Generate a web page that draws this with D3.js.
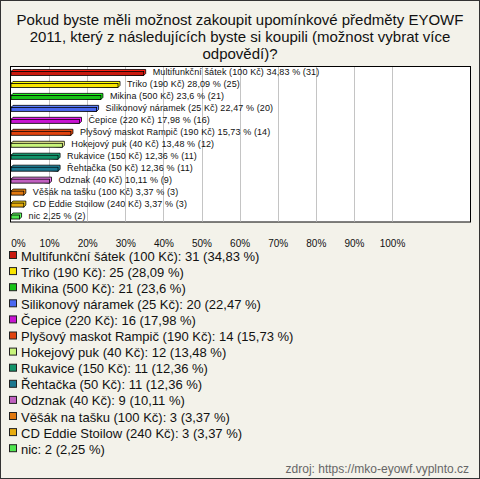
<!DOCTYPE html>
<html>
<head>
<meta charset="utf-8">
<script src="https://cdn.jsdelivr.net/npm/d3@7"></script>
<style>
  body { margin: 0; background: #fff; }
  text { font-family: Arial, "Liberation Sans", sans-serif; }
</style>
</head>
<body>
<div class="layout"></div>
<script>
var titleLines = [
  "Pokud byste měli možnost zakoupit upomínkové předměty EYOWF",
  "2011, který z následujících byste si koupili (možnost vybrat více",
  "odpovědí)?"
];

var items = [
  "Multifunkční šátek (100 Kč)", "Triko (190 Kč)", "Mikina (500 Kč)",
  "Silikonový náramek (25 Kč)", "Čepice (220 Kč)", "Plyšový maskot Rampič (190 Kč)",
  "Hokejový puk (40 Kč)", "Rukavice (150 Kč)", "Řehtačka (50 Kč)",
  "Odznak (40 Kč)", "Věšák na tašku (100 Kč)", "CD Eddie Stoilow (240 Kč)", "nic"
];
var counts = [31, 25, 21, 20, 16, 14, 12, 11, 11, 9, 3, 3, 2];
var percents = [34.83, 28.09, 23.6, 22.47, 17.98, 15.73, 13.48, 12.36, 12.36, 10.11, 3.37, 3.37, 2.25];
var colors = [
  "#c8190f", "#f8e400", "#16c216", "#4a68f0", "#c814d2", "#e0420e", "#c8f47a",
  "#12946a", "#1c7890", "#c060c0", "#e07810", "#e8ac10", "#50e650"
];
var ticks = [0, 10, 20, 30, 40, 50, 60, 70, 80, 90, 100];
var source = "zdroj: https://mko-eyowf.vyplnto.cz";

var W = 480, H = 479;
var plot = {left: 10, right: 470, top: 66.5, bottom: 222};

var fmt = function(v) { return String(v).replace(".", ","); };

var data = items.map(function(d, i) {
  return {name: d, count: counts[i], pct: percents[i], color: colors[i]};
});

var svg = d3.select(".layout").append("svg")
    .attr("width", W)
    .attr("height", H);

svg.append("rect")
    .attr("x", 0.5).attr("y", 0.5)
    .attr("width", W - 1).attr("height", H - 1)
    .attr("fill", "#f3f2ea")
    .attr("stroke", "#333");

svg.append("g").selectAll("text")
    .data(titleLines)
    .enter().append("text")
    .attr("x", W / 2)
    .attr("y", function(d, i) { return 25 + i * 17; })
    .attr("text-anchor", "middle")
    .attr("font-size", 15)
    .attr("fill", "#111")
    .text(function(d) { return d; });

var x = d3.scaleLinear().domain([0, 100]).range([11, 392]);
var y = d3.scaleBand().domain(items).range([plot.top, plot.bottom]);

svg.append("rect")
    .attr("x", plot.left + 0.5).attr("y", plot.top)
    .attr("width", plot.right - plot.left).attr("height", plot.bottom - plot.top)
    .attr("fill", "#fff")
    .attr("stroke", "#000");

svg.append("g").selectAll("line")
    .data(ticks.slice(1))
    .enter().append("line")
    .attr("x1", function(d) { return Math.round(x(d)) + 0.5; })
    .attr("x2", function(d) { return Math.round(x(d)) + 0.5; })
    .attr("y1", plot.top + 0.5)
    .attr("y2", plot.bottom - 0.5)
    .attr("stroke", "#c4c4c4");

var xAxis = d3.axisBottom(x).tickValues(ticks).tickSize(0)
    .tickFormat(function(d) { return d + "%"; });

var axisG = svg.append("g")
    .attr("transform", "translate(0,237)")
    .call(xAxis);
axisG.select(".domain").remove();
axisG.selectAll("text")
    .attr("font-size", 10)
    .attr("font-family", "Arial, 'Liberation Sans', sans-serif")
    .attr("fill", "#111")
    .attr("dy", 0)
    .attr("y", 10)
    .attr("dx", function(d) { return d === 0 ? 7 : 0; });

// 3D bars
var dpt = 2, bh = 4;
var bars = svg.append("g").selectAll("g")
    .data(data)
    .enter().append("g")
    .attr("transform", function(d) {
      return "translate(0," + (y(d.name) + y.bandwidth() / 2 - bh / 2 + 1) + ")";
    });

bars.append("path")
    .attr("d", function(d) {
      var x0 = x(0), x1 = x(d.pct);
      return "M" + x0 + ",0L" + (x0 + dpt) + "," + (-dpt) + "L" + (x1 + dpt) + "," + (-dpt) +
             "L" + (x1 + dpt) + "," + (bh - dpt) + "L" + x1 + "," + bh + "Z";
    })
    .attr("fill", function(d) { return d3.color(d.color).brighter(0.6); })
    .attr("stroke", "#000")
    .attr("stroke-width", 0.8);

bars.append("rect")
    .attr("x", x(0))
    .attr("y", 0)
    .attr("width", function(d) { return x(d.pct) - x(0); })
    .attr("height", bh)
    .attr("fill", function(d) { return d.color; })
    .attr("stroke", "#000")
    .attr("stroke-width", 0.8);

bars.append("text")
    .attr("x", function(d) { return x(d.pct) + dpt + 7; })
    .attr("y", bh / 2 + 1.5)
    .attr("font-size", 9)
    .attr("letter-spacing", 0.1)
    .attr("fill", "#111")
    .text(function(d) { return d.name + " " + fmt(d.pct) + " % (" + d.count + ")"; });

// legend
var leg = svg.append("g").selectAll("g")
    .data(data)
    .enter().append("g")
    .attr("transform", function(d, i) { return "translate(0," + (256 + i * 16.1) + ")"; });

leg.append("rect")
    .attr("x", 9.5).attr("y", -4.5)
    .attr("width", 7).attr("height", 7)
    .attr("fill", function(d) { return d.color; })
    .attr("stroke", "#222");

leg.append("text")
    .attr("x", 21)
    .attr("y", 4.5)
    .attr("font-size", 13)
    .attr("fill", "#111")
    .text(function(d) { return d.name + ": " + d.count + " (" + fmt(d.pct) + " %)"; });

svg.append("text")
    .attr("x", 469)
    .attr("y", 473)
    .attr("text-anchor", "end")
    .attr("font-size", 12)
    .attr("fill", "#666")
    .text(source);
</script>
</body>
</html>
